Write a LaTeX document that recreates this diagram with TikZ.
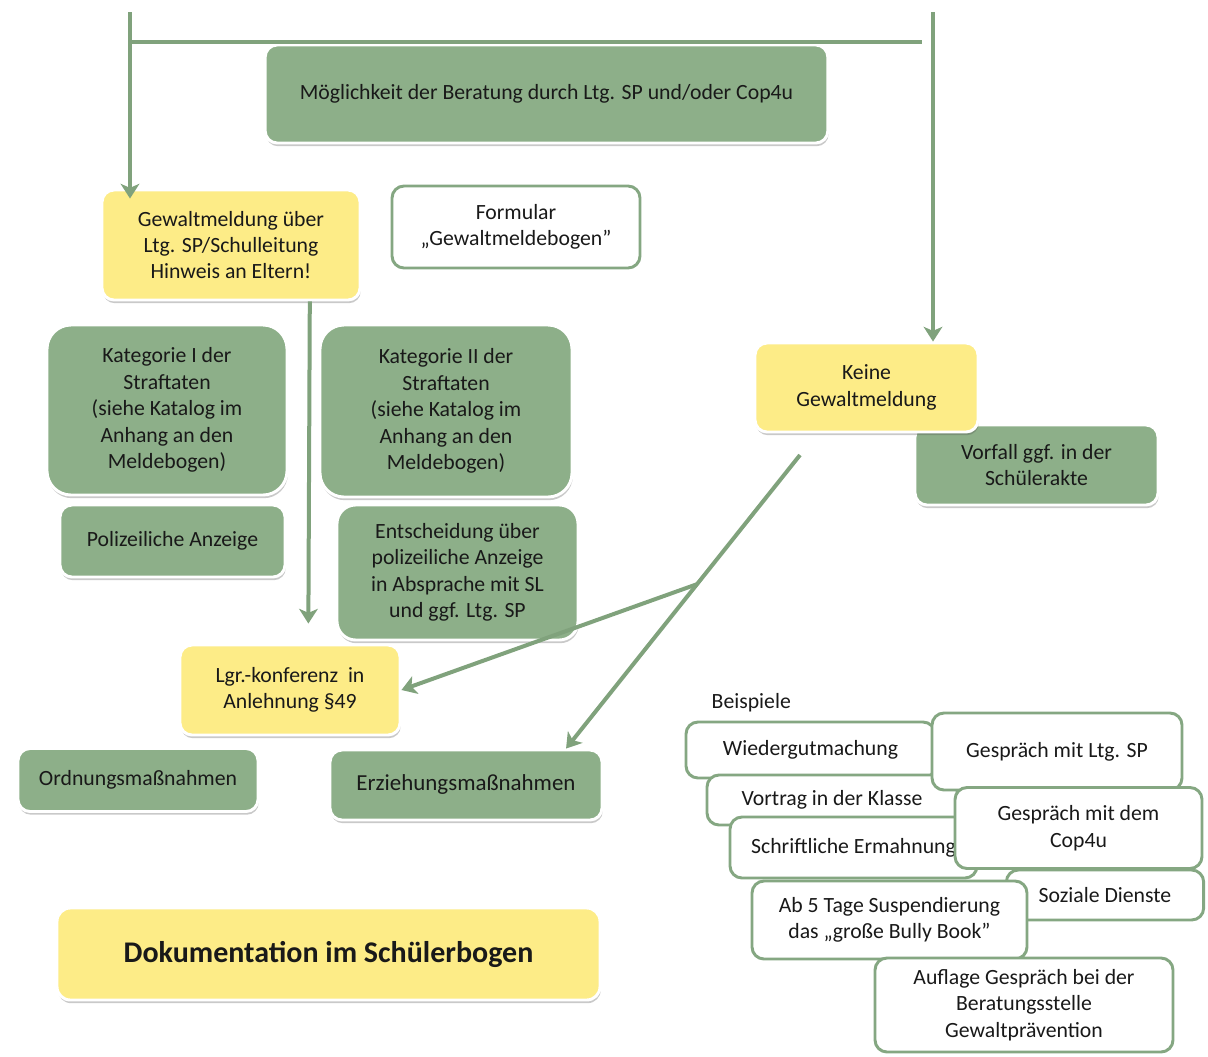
\documentclass[tikz,border=0pt]{standalone}
\usepackage{fontspec}
\setmainfont{Carlito}
\usetikzlibrary{arrows.meta,shadows,calc}

\definecolor{boxgreen}{RGB}{141,175,137}
\definecolor{boxyellow}{RGB}{253,236,135}
\definecolor{linegreen}{RGB}{128,162,124}
\definecolor{framegreen}{RGB}{133,167,130}

\tikzset{
  base/.style={rounded corners=9pt, align=center, inner sep=2pt,
    font=\fontsize{16.3}{19.8}\selectfont, text=black!90},
  softshadow/.style={drop shadow={shadow xshift=0.6pt, shadow yshift=-2.4pt,
    opacity=0.3, fill=black!70}},
  greenbox/.style={base, fill=boxgreen, draw=white, line width=2.2pt, softshadow},
  yellowbox/.style={base, fill=boxyellow, draw=white, line width=2.2pt, softshadow},
  framebox/.style={base, fill=white, draw=framegreen, line width=2.2pt},
  flow/.style={draw=linegreen, line width=3pt},
  arr/.style={flow, -{Stealth[length=11pt,width=14pt,inset=3pt]}}
}

\begin{document}
\begin{tikzpicture}[x=0.75pt,y=-0.75pt]
\useasboundingbox (0,0) rectangle (1208,1057);

% main flow boxes
\node[greenbox, minimum width=422pt, minimum height=73.5pt] (mog) at (546.5,94)
  {Möglichkeit der Beratung durch Ltg. SP und/oder Cop4u};
\node[yellowbox, minimum width=193.5pt, minimum height=82.5pt] (gew) at (231,245)
  {Gewaltmeldung über\\Ltg. SP/Schulleitung\\Hinweis an Eltern!};
\node[framebox, minimum width=186pt, minimum height=61.5pt] (form) at (516,227)
  {Formular\\„Gewaltmeldebogen”};
\node[greenbox, rounded corners=18pt, minimum width=180pt, minimum height=127.5pt] (kat1) at (167,410)
  {Kategorie I der\\Straftaten\\(siehe Katalog im\\Anhang an den\\Meldebogen)};
\node[greenbox, rounded corners=18pt, minimum width=189pt, minimum height=129pt] (kat2) at (446,411)
  {Kategorie II der\\Straftaten\\(siehe Katalog im\\Anhang an den\\Meldebogen)};
\node[greenbox, minimum width=168.75pt, minimum height=54pt] (pol) at (172.5,541)
  {Polizeiliche Anzeige};
\node[greenbox, rounded corners=14pt, minimum width=180.75pt, minimum height=101.25pt] (ents) at (457.5,572.5)
  {Entscheidung über\\polizeiliche Anzeige\\in Absprache mit SL\\und ggf. Ltg. SP};
\node[yellowbox, minimum width=165pt, minimum height=67.5pt] (lgr) at (290,690)
  {Lgr.-konferenz\ \ in\\Anlehnung §49};
\node[greenbox, minimum width=180pt, minimum height=47.25pt] (ord) at (138,780)
  {Ordnungsmaßnahmen};
\node[greenbox, minimum width=204pt, minimum height=52.5pt, font=\fontsize{17.2}{20.5}\selectfont] (erz) at (466,785)
  {Erziehungsmaßnahmen};
\node[greenbox, minimum width=182.25pt, minimum height=60pt] (vorf) at (1036.5,465)
  {Vorfall ggf. in der\\Schülerakte};
\node[yellowbox, minimum width=167.25pt, minimum height=66.75pt] (keine) at (866.5,387.5)
  {Keine\\Gewaltmeldung};
\node[yellowbox, rounded corners=10pt, minimum width=407.25pt, minimum height=69pt,
  font=\fontsize{22.5}{26}\selectfont\bfseries] (doku) at (328.5,954)
  {Dokumentation im Schülerbogen};

% examples
\node[anchor=west, font=\fontsize{16.3}{19.8}\selectfont, text=black!90] (beisp) at (707,703) {Beispiele};
\node[framebox, minimum width=186.75pt, minimum height=42pt] (wied) at (810.5,750) {Wiedergutmachung};
\node[framebox, minimum width=187.5pt, minimum height=37.5pt] (vort) at (832,800) {Vortrag in der Klasse};
\node[framebox, minimum width=187.5pt, minimum height=57.75pt] (gltg) at (1057,751.5) {Gespräch mit Ltg. SP};
\node[framebox, minimum width=185.25pt, minimum height=45.75pt] (schr) at (853.5,847.5) {Schriftliche Ermahnung};
\node[framebox, minimum width=148pt, minimum height=37.5pt] (soz) at (1105,895) {Soziale Dienste};
\node[framebox, minimum width=185.25pt, minimum height=60.75pt] (cop) at (1078.5,828) {Gespräch mit dem\\Cop4u};
\node[framebox, minimum width=206.25pt, minimum height=58.5pt] (ab5) at (889.5,920) {Ab 5 Tage Suspendierung\\das „große Bully Book”};
\node[framebox, minimum width=223.5pt, minimum height=70.5pt] (aufl) at (1024,1005)
  {Auflage Gespräch bei der\\Beratungsstelle\\Gewaltprävention};

% connectors
\coordinate (tl) at (130,12);
\coordinate (tr) at (933,12);
\coordinate (hl) at (130,42);
\coordinate (hr) at (922,42);
\coordinate (ks) at (800,455);
\coordinate (et) at ($(erz.north west)!0.864!(erz.north east)$);

\draw[flow] (hl) -- (hr);
\draw[arr] (tl) -- ($(tl |- gew.north)+(0,10)$);
\draw[arr] (tr) -- (tr |- keine.north);
\draw[arr, shorten >=15pt] ($(gew.south west)!0.802!(gew.south east)$) -- ($(lgr.north west)!0.582!(lgr.north east)$);
\draw[arr] (ks) -- (et);
\draw[arr] ($(ks)!0.44!(et)$) -- (lgr.east);
\end{tikzpicture}
\end{document}
